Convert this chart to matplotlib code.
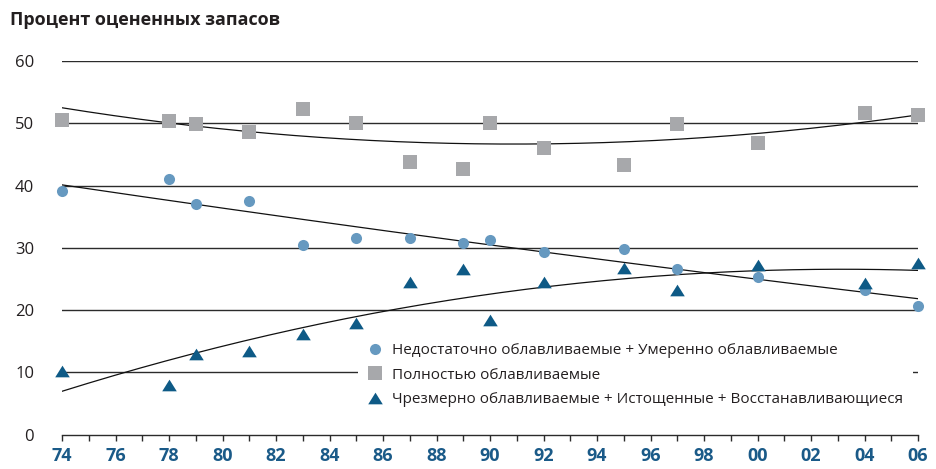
import numpy as np
import matplotlib
matplotlib.use("Agg")
import matplotlib.pyplot as plt
from matplotlib.ticker import MultipleLocator, FixedLocator

plt.rcParams['font.family'] = ['Open Sans', 'DejaVu Sans']

# Years of assessment
years_under = [1974, 1978, 1979, 1981, 1983, 1985, 1987, 1989, 1990, 1992, 1995, 1997, 2000, 2004, 2006]
# Underexploited + moderately exploited (%)
under_vals = [39.1, 41.0, 37.1, 37.5, 30.5, 31.6, 31.6, 30.7, 31.3, 29.3, 29.8, 26.6, 25.4, 23.3, 20.6]
# Fully exploited (%)
full_vals = [50.5, 50.3, 49.9, 48.6, 52.3, 50.1, 43.8, 42.6, 50.1, 46.1, 43.3, 49.9, 46.9, 51.7, 51.4]
# Overexploited + depleted + recovering (%)
over_vals = [10.3, 8.0, 13.0, 13.4, 16.2, 18.0, 24.5, 26.6, 18.4, 24.5, 26.7, 23.3, 27.3, 24.4, 27.6]

labels = [
    "Недостаточно облавливаемые + Умеренно облавливаемые",
    "Полностью облавливаемые",
    "Чрезмерно облавливаемые + Истощенные + Восстанавливающиеся",
]
title = "Процент оцененных запасов"
y_ticks = [0, 10, 20, 30, 40, 50, 60]
x_major = list(range(1974, 2007, 2))
x_tick_labels = [f"{y % 100:02d}" for y in x_major]

c_under = "#6699c0"
c_full = "#a7a8ab"
c_over = "#0e5a86"
c_axis_lbl = "#1a5a88"
c_text = "#231f20"

W, H = 937, 469
fig = plt.figure(figsize=(W / 100, H / 100), dpi=100)
ax = fig.add_axes([62 / W, (H - 434.7) / H, 856 / W, (434.7 - 61) / H])
ax.set_xlim(1974, 2006)
ax.set_ylim(0, 60)

# horizontal guide lines
for yv in y_ticks[1:]:
    ax.axhline(yv, color="#2b2b2b", lw=1.0, zorder=1)

# polynomial trend lines fitted to each series
xs = np.linspace(1974, 2006, 200)
for vals in (under_vals, full_vals, over_vals):
    x = np.array(years_under, dtype=float)
    coef = np.polyfit(x - 1990, vals, 2)
    ax.plot(xs, np.polyval(coef, xs - 1990), color="#111111", lw=0.9, zorder=2)

tri = [(0, 0.8), (-1, -0.8), (1, -0.8)]
h1, = ax.plot(years_under, under_vals, "o", color=c_under, ms=8, mew=0, zorder=4, clip_on=False)
h2, = ax.plot(years_under, full_vals, "s", color=c_full, ms=10, mew=0, zorder=4, clip_on=False)
h3, = ax.plot(years_under, over_vals, marker=tri, ls="none", color=c_over, ms=10.5, mew=0, zorder=4, clip_on=False)

for s in ("left", "top", "right"):
    ax.spines[s].set_visible(False)
ax.spines["bottom"].set_color("#2b2b2b")
ax.spines["bottom"].set_linewidth(1.0)

ax.yaxis.set_major_locator(FixedLocator(y_ticks))
ax.set_yticklabels([str(v) for v in y_ticks], fontsize=12, color=c_text)
ax.tick_params(axis="y", length=0, pad=20)

ax.xaxis.set_major_locator(FixedLocator(x_major))
ax.xaxis.set_minor_locator(MultipleLocator(1))
ax.set_xticklabels(x_tick_labels, fontsize=13, fontweight="bold", color=c_axis_lbl)
ax.tick_params(axis="x", which="both", direction="out", length=4, width=1.0, color="#2b2b2b", pad=5)

leg = ax.legend([h1, h2, h3], labels, loc="upper left",
                bbox_to_anchor=(358 / W, 1 - 334 / H), bbox_transform=fig.transFigure,
                fontsize=11, frameon=True, fancybox=False, borderpad=0.6,
                handlelength=1.0, handletextpad=0.65, labelspacing=0.62,
                borderaxespad=0, labelcolor=c_text)
leg.get_frame().set_facecolor("white")
leg.get_frame().set_edgecolor("none")
leg.get_frame().set_alpha(1)
leg.set_zorder(3)

fig.text(10 / W, 1 - 20 / H, title, fontsize=13, fontweight="bold", color=c_text, va="center", ha="left")

fig.savefig("out.png", dpi=100)
